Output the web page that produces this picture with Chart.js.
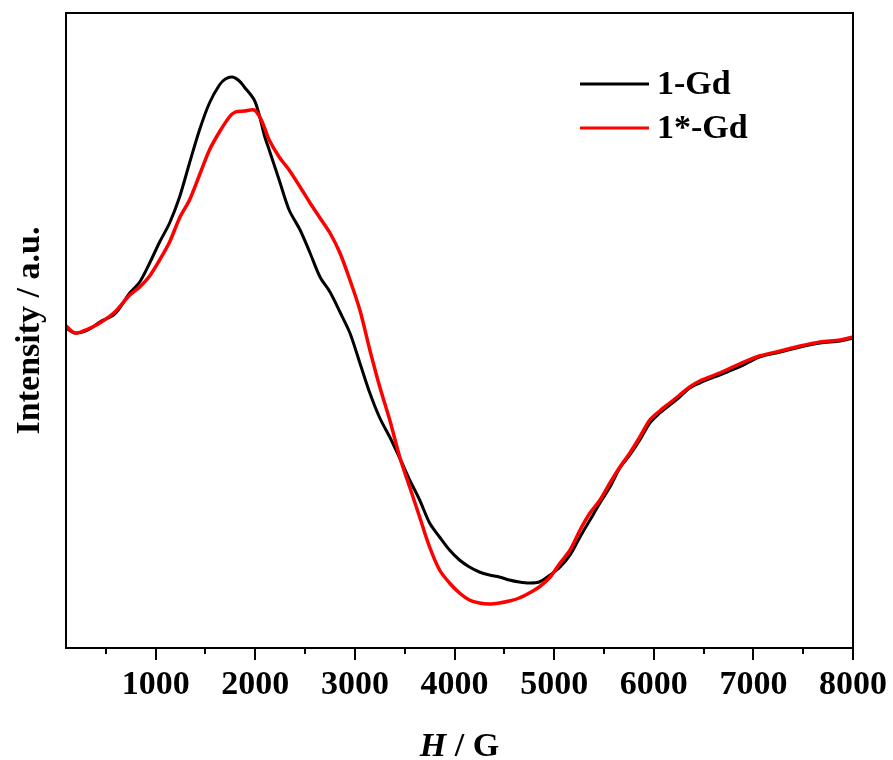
<!DOCTYPE html>
<html>
<head>
<meta charset="utf-8">
<script src="https://cdn.jsdelivr.net/npm/chart.js@4.4.0/dist/chart.umd.min.js"></script>
<style>
  html, body { margin: 0; padding: 0; background: #fff; }
  #wrap { width: 893px; height: 760px; }
</style>
</head>
<body>
<div id="wrap"><canvas id="chart" width="893" height="760"></canvas></div>
<script>
// EPR spectra, field in G, intensity in arbitrary units
const field_gd = [100, 190, 320, 440, 590, 740, 840, 940, 1040, 1140, 1240, 1340, 1440, 1540, 1640, 1700, 1770, 1840, 1890, 1990, 2040, 2090, 2140, 2240, 2340, 2450, 2550, 2650, 2750, 2850, 2950, 3050, 3150, 3250, 3350, 3450, 3550, 3650, 3750, 3850, 3950, 4050, 4150, 4250, 4350, 4450, 4550, 4650, 4750, 4850, 4960, 5060, 5160, 5260, 5360, 5460, 5560, 5660, 5760, 5860, 5960, 6060, 6160, 6260, 6360, 6460, 6660, 6860, 7060, 7270, 7470, 7670, 7870, 8000];
const int_gd = [2, -3, 0, 8, 16, 37, 48, 67, 88, 107, 133, 167, 200, 227, 245, 251, 253, 249, 243, 230, 215, 195, 180, 150, 120, 100, 77, 53, 38, 18, -3, -33, -63, -88, -107, -128, -150, -170, -193, -207, -220, -230, -237, -242, -245, -247, -250, -252, -253, -252, -245, -237, -225, -207, -190, -173, -157, -138, -125, -110, -93, -83, -75, -67, -58, -53, -45, -37, -27, -22, -17, -13, -11, -8];

const field_gd2 = [100, 190, 320, 440, 590, 740, 840, 940, 1040, 1140, 1240, 1340, 1440, 1540, 1640, 1740, 1800, 1890, 1990, 2040, 2090, 2140, 2240, 2340, 2450, 2550, 2650, 2750, 2850, 2950, 3050, 3150, 3250, 3350, 3450, 3550, 3650, 3750, 3850, 3950, 4050, 4150, 4250, 4350, 4450, 4550, 4650, 4750, 4850, 4960, 5060, 5160, 5260, 5360, 5460, 5560, 5660, 5760, 5860, 5960, 6060, 6160, 6260, 6360, 6460, 6660, 6860, 7060, 7270, 7470, 7670, 7870, 8000];
const int_gd2 = [4, -3, 1, 7, 18, 35, 43, 54, 70, 88, 112, 130, 155, 180, 198, 213, 218, 219, 220, 214, 203, 190, 173, 160, 143, 127, 112, 97, 77, 50, 20, -20, -57, -90, -127, -157, -187, -217, -240, -253, -263, -270, -273, -274, -273, -271, -268, -263, -257, -247, -233, -220, -200, -183, -170, -153, -137, -123, -107, -90, -81, -73, -65, -57, -51, -43, -34, -26, -21, -16, -12, -10, -7];

const series_names = ['1-Gd', '1*-Gd'];
const series_colors = ['#000000', '#ff0000'];
const x_ticks = [500, 1000, 1500, 2000, 2500, 3000, 3500, 4000, 4500, 5000, 5500, 6000, 6500, 7000, 7500, 8000];

const serif = '"Liberation Serif", "Times New Roman", serif';

const toPoints = (xs, ys) => xs.map((x, i) => ({ x: x, y: ys[i] }));

// frame, outward ticks, legend and axis titles
const decor = {
    id: 'decor',
    afterDraw(chart) {
        const ctx = chart.ctx;
        const a = chart.chartArea;
        const xs = chart.scales.x;
        ctx.save();
        ctx.strokeStyle = '#000';
        ctx.lineWidth = 2;
        ctx.strokeRect(a.left, a.top, a.right - a.left, a.bottom - a.top);

        x_ticks.forEach(v => {
            const px = Math.round(xs.getPixelForValue(v));
            const len = v % 1000 === 0 ? 12 : 6;
            ctx.beginPath();
            ctx.moveTo(px, a.bottom);
            ctx.lineTo(px, a.bottom + len);
            ctx.stroke();
        });

        // legend
        ctx.font = 'bold 34px ' + serif;
        ctx.textBaseline = 'middle';
        ctx.textAlign = 'left';
        series_names.forEach((name, i) => {
            const y = 84 + i * 44;
            ctx.strokeStyle = series_colors[i];
            ctx.lineWidth = 3;
            ctx.beginPath();
            ctx.moveTo(580, y);
            ctx.lineTo(649, y);
            ctx.stroke();
            ctx.fillStyle = '#000';
            ctx.fillText(name, 657, y + 1);
        });

        // y title
        ctx.save();
        ctx.translate(39, (a.top + a.bottom) / 2);
        ctx.rotate(-Math.PI / 2);
        ctx.textAlign = 'center';
        ctx.textBaseline = 'alphabetic';
        ctx.fillText('Intensity / a.u.', 0, 0);
        ctx.restore();

        // x title, H in italics
        const cx = (a.left + a.right) / 2;
        ctx.textBaseline = 'alphabetic';
        ctx.font = 'italic bold 34px ' + serif;
        const wH = ctx.measureText('H').width;
        ctx.font = 'bold 34px ' + serif;
        const wRest = ctx.measureText(' / G').width;
        const x0 = cx - (wH + wRest) / 2;
        ctx.font = 'italic bold 34px ' + serif;
        ctx.fillText('H', x0, 756);
        ctx.font = 'bold 34px ' + serif;
        ctx.fillText(' / G', x0 + wH, 756);
        ctx.restore();
    }
};

const chart = new Chart(document.getElementById('chart').getContext('2d'), {
    type: 'line',
    data: {
        datasets: [
            {
                label: series_names[0],
                data: toPoints(field_gd, int_gd),
                borderColor: series_colors[0],
                borderWidth: 3,
                pointRadius: 0,
                tension: 0.3,
                order: 1
            },
            {
                label: series_names[1],
                data: toPoints(field_gd2, int_gd2),
                borderColor: series_colors[1],
                borderWidth: 3.5,
                pointRadius: 0,
                tension: 0.3,
                order: 0
            }
        ]
    },
    options: {
        responsive: false,
        animation: false,
        layout: { padding: { left: 66, right: 40, top: 13, bottom: 0 } },
        plugins: {
            legend: { display: false },
            tooltip: { enabled: false }
        },
        scales: {
            x: {
                type: 'linear',
                min: 100,
                max: 8000,
                afterBuildTicks: scale => { scale.ticks = x_ticks.map(v => ({ value: v })); },
                afterFit: scale => {
                    scale.height = 112;
                    scale.paddingLeft = 0;
                    scale.paddingRight = 0;
                },
                grid: { display: false, drawTicks: false },
                border: { display: false },
                ticks: {
                    autoSkip: false,
                    maxRotation: 0,
                    padding: 17,
                    color: '#000',
                    font: { family: serif, size: 34, weight: 'bold' },
                    callback: v => (v % 1000 === 0 ? String(v) : '')
                }
            },
            y: {
                display: false,
                min: -318,
                max: 317
            }
        }
    },
    plugins: [decor]
});
</script>
</body>
</html>
